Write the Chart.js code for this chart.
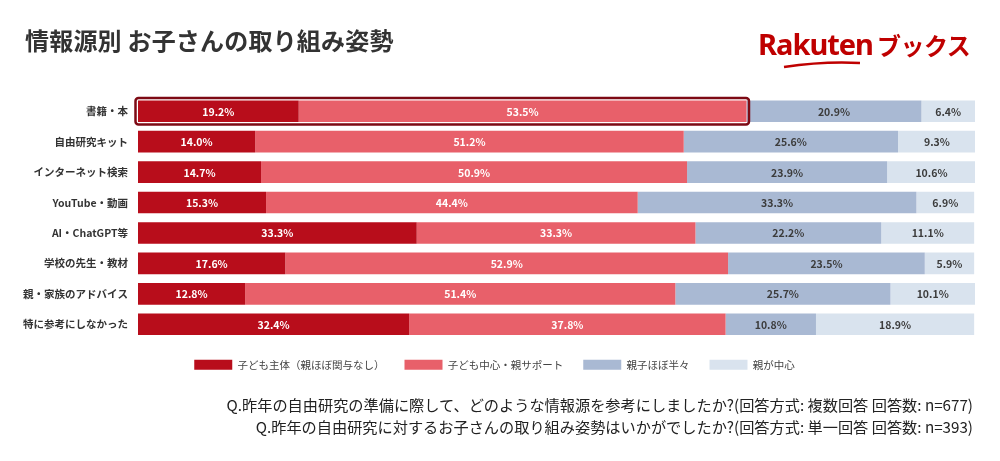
<!DOCTYPE html>
<html lang="ja">
<head>
<meta charset="utf-8">
<script src="https://cdn.jsdelivr.net/npm/chart.js@4"></script>
<style>
  html, body { margin: 0; padding: 0; background: #fff; }
  body { width: 1000px; height: 461px; position: relative; overflow: hidden; font-family: "Noto Sans CJK JP", "Noto Sans", sans-serif; }
  #title { position: absolute; left: 25px; top: 22px; font-size: 24px; font-weight: 700; color: #333; letter-spacing: 0.2px; }
  #logo { position: absolute; left: 758px; top: 24px; color: #bf0000; white-space: nowrap; }
  #logo .r { font-family: "Noto Sans", sans-serif; font-size: 29px; font-weight: 700; letter-spacing: -1px; }
  #logo .b { font-size: 24px; font-weight: 700; margin-left: 4px; letter-spacing: -0.5px; }
  #logo svg { position: absolute; left: 24px; top: 37px; }
  #notes { position: absolute; right: 27px; top: 393px; text-align: right; font-size: 15.2px; line-height: 22px; color: #222; }
  #wrap { position: absolute; left: 0; top: 0; width: 1000px; height: 461px; }
</style>
</head>
<body>
<div id="wrap"><canvas id="chart"></canvas></div>
<div id="title">情報源別 お子さんの取り組み姿勢</div>
<div id="logo"><span class="r">Rakuten</span><span class="b">ブックス</span>
  <svg width="80" height="8" viewBox="0 0 80 8"><path d="M2 6 Q 42 0 78 2" stroke="#bf0000" stroke-width="2.5" fill="none"/></svg>
</div>
<div id="notes">
  <div>Q.昨年の自由研究の準備に際して、どのような情報源を参考にしましたか?(回答方式: 複数回答 回答数: n=677)</div>
  <div>Q.昨年の自由研究に対するお子さんの取り組み姿勢はいかがでしたか?(回答方式: 単一回答 回答数: n=393)</div>
</div>
<script>
document.addEventListener("DOMContentLoaded", () => {

  const categories = ['書籍・本', '自由研究キット', 'インターネット検索', 'YouTube・動画', 'AI・ChatGPT等', '学校の先生・教材', '親・家族のアドバイス', '特に参考にしなかった'];
  const seriesNames = ['子ども主体（親ほぼ関与なし）', '子ども中心・親サポート', '親子ほぼ半々', '親が中心'];
  const childLed = [19.2, 14.0, 14.7, 15.3, 33.3, 17.6, 12.8, 32.4];
  const childSupport = [53.5, 51.2, 50.9, 44.4, 33.3, 52.9, 51.4, 37.8];
  const half = [20.9, 25.6, 23.9, 33.3, 22.2, 23.5, 25.7, 10.8];
  const parentLed = [6.4, 9.3, 10.6, 6.9, 11.1, 5.9, 10.1, 18.9];
  const colors = ['#b80d1b', '#e8606a', '#a9b9d3', '#d9e3ee'];
  const labelColors = ['#ffffff', '#ffffff', '#3c3c3c', '#3c3c3c'];

  const fontFamily = '"Noto Sans CJK JP", "Noto Sans", sans-serif';

  // value labels in the middle of every segment
  const valueLabels = {
    id: 'valueLabels',
    afterDatasetsDraw(chart) {
      const ctx = chart.ctx;
      ctx.save();
      ctx.font = 'bold 10.5px ' + fontFamily;
      ctx.textAlign = 'center';
      ctx.textBaseline = 'middle';
      chart.data.datasets.forEach((ds, i) => {
        chart.getDatasetMeta(i).data.forEach((bar, j) => {
          const p = bar.getCenterPoint();
          ctx.fillStyle = labelColors[i];
          ctx.fillText(ds.data[j].toFixed(1) + '%', p.x, p.y + 0.5);
        });
      });
      ctx.restore();
    }
  };

  // dark frame around the first two segments of the first row
  const highlight = {
    id: 'highlight',
    afterDatasetsDraw(chart) {
      const x = chart.scales.x;
      const bar = chart.getDatasetMeta(0).data[0];
      const left = x.getPixelForValue(0);
      const right = x.getPixelForValue(childLed[0] + childSupport[0]);
      const off = 2.5;
      const ctx = chart.ctx;
      ctx.save();
      ctx.strokeStyle = '#7d0a14';
      ctx.lineWidth = 2.5;
      ctx.beginPath();
      ctx.roundRect(left - off, bar.y - bar.height / 2 - off, right - left + off * 2, bar.height + off * 2, 3);
      ctx.stroke();
      ctx.restore();
    }
  };

  const ctx = document.getElementById("chart");

  new Chart(ctx, {
    type: "bar",
    data: {
      labels: categories,
      datasets: [childLed, childSupport, half, parentLed].map((d, i) => ({
        label: seriesNames[i],
        data: d,
        backgroundColor: colors[i],
        borderWidth: 0,
        barPercentage: 0.71,
        categoryPercentage: 1.0
      }))
    },
    options: {
      indexAxis: 'y',
      responsive: true,
      maintainAspectRatio: false,
      animation: false,
      layout: { padding: { top: 96, left: 14, right: 25, bottom: 81 } },
      scales: {
        x: {
          stacked: true,
          min: 0,
          max: 100,
          display: false
        },
        y: {
          stacked: true,
          grid: { display: false, drawTicks: false },
          border: { display: false },
          ticks: {
            color: '#333',
            padding: 10,
            font: { family: fontFamily, size: 10.5, weight: 'bold' }
          },
          afterFit(scale) { scale.width = 124; }
        }
      },
      plugins: {
        legend: {
          position: 'bottom',
          labels: {
            boxWidth: 38,
            boxHeight: 10,
            padding: 20,
            color: '#444',
            font: { family: fontFamily, size: 10.5 }
          }
        },
        tooltip: { enabled: false }
      }
    },
    plugins: [valueLabels, highlight]
  });

});
</script>
</body>
</html>
